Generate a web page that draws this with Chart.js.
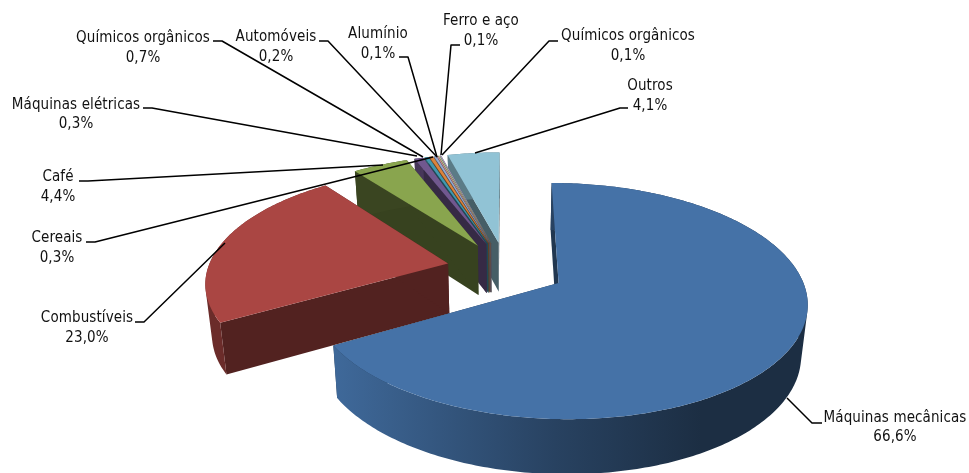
<!DOCTYPE html>
<html><head><meta charset="utf-8">
<style>html,body{margin:0;padding:0;background:#fff}canvas{display:block}</style>
<script src="https://cdn.jsdelivr.net/npm/chart.js@4"></script>
</head><body>
<canvas id="c" width="969" height="473"></canvas>
<script>
const categories = ["Máquinas mecânicas","Combustíveis","Café","Químicos orgânicos","Máquinas elétricas","Cereais","Automóveis","Alumínio","Ferro e aço","Químicos orgânicos","Outros"];
const shares = [66.6,23.0,4.4,0.7,0.3,0.3,0.2,0.1,0.1,0.1,4.1];
const sliceColors = ["#4572A7","#AA4643","#89A54E","#71588F","#4198AF","#DB843D","#93A9CF","#D19392","#B9CD96","#A99BBD","#91C3D5"];

// text centre x, y of both lines, and the leader polyline of each label (same order as categories)
const labelLayout = [
 {cx:895,y:[418,437],line:[[822,423],[812,423],[787,398]]},
 {cx:87,y:[318,338],line:[[135,322],[144,322],[225,243]]},
 {cx:58,y:[177,197],line:[[79,181],[88,181],[383,165]]},
 {cx:143,y:[38,58],line:[[213,41],[222,41],[423,157]]},
 {cx:76,y:[105,124],line:[[143,108],[152,108],[417,156]]},
 {cx:57,y:[238,258],line:[[86,242],[95,242],[433,157]]},
 {cx:276,y:[37,57],line:[[319,41],[328,41],[437,157]]},
 {cx:378,y:[34,54],line:[[399,57],[408,57],[437,157]]},
 {cx:481,y:[21,41],line:[[460,45],[451,45],[441,155]]},
 {cx:628,y:[36,56],line:[[558,41],[549,41],[442,155]]},
 {cx:650,y:[86,106],line:[[628,108],[620,108],[475,153]]}
];

const view = {sx:1.324, sy:0.612, persp:0.15, base:0.978, depth:50};
const blueWallStops = [[0,0.92],[0.47,0.58],[0.78,0.4],[1,0.4]];

function shade(hex,f){
  const n=parseInt(hex.slice(1),16);
  return `rgb(${Math.round((n>>16&255)*f)},${Math.round((n>>8&255)*f)},${Math.round((n&255)*f)})`;
}
function project(arc,dx,dy,bottom){
  const w=1-view.persp*dy/arc.outerRadius;
  let x=view.sx*dx/w, y=view.sy*dy/w;
  if(bottom){x*=view.base; y+=view.depth*(1+(1/w-1)*0.5);}
  return [arc.x+x,arc.y+y];
}
function poly(ctx,pts,fill){
  ctx.beginPath();
  pts.forEach((p,i)=>i?ctx.lineTo(p[0],p[1]):ctx.moveTo(p[0],p[1]));
  ctx.closePath();
  ctx.fillStyle=fill; ctx.fill();
}
// several polygons filled as one path, all wound the same way, so no seams or holes appear
function band(ctx,top,bot,fill){
  ctx.beginPath();
  for(let k=0;k<top.length-1;k++){
    let q=[top[k],top[k+1],bot[k+1],bot[k]], area=0;
    q.forEach((p,j)=>{const r=q[(j+1)%4]; area+=p[0]*r[1]-r[0]*p[1];});
    if(area<0) q.reverse();
    q.forEach((p,j)=>j?ctx.lineTo(p[0],p[1]):ctx.moveTo(p[0],p[1]));
    ctx.closePath();
  }
  ctx.fillStyle=fill; ctx.fill();
}
const pie3d = {
  id:'pie3d',
  beforeDatasetsDraw(chart){
    const ctx=chart.ctx, arcs=chart.getDatasetMeta(0).data;
    const order=[...arcs.keys()].reverse();
    ctx.save();
    for(const i of order){
      const arc=arcs[i], col=sliceColors[i], off=arc.options.offset;
      const mid=(arc.startAngle+arc.endAngle)/2;
      const ox=off*Math.cos(mid), oy=off*Math.sin(mid), R=arc.outerRadius;
      const n=Math.max(2,Math.ceil((arc.endAngle-arc.startAngle)/0.015));
      const rim=[];
      for(let k=0;k<=n;k++){
        const a=arc.startAngle+(arc.endAngle-arc.startAngle)*k/n;
        rim.push([ox+R*Math.cos(a),oy+R*Math.sin(a)]);
      }
      const top=rim.map(p=>project(arc,p[0],p[1],false));
      const bot=rim.map(p=>project(arc,p[0],p[1],true));
      const c0=project(arc,ox,oy,false), c1=project(arc,ox,oy,true);
      // radial faces
      const face=shade(col,i===2?0.4:0.48);
      poly(ctx,[c0,top[0],bot[0],c1],face);
      poly(ctx,[c0,top[n],bot[n],c1],face);
      // outer wall
      let wall=shade(col,i===2?0.42:0.63);
      if(i===0){
        const xs=top.concat(bot).filter(p=>p[1]>c0[1]+40).map(p=>p[0]);
        const g=ctx.createLinearGradient(Math.min(...xs),0,Math.max(...xs),0);
        blueWallStops.forEach(s=>g.addColorStop(s[0],shade(col,s[1])));
        wall=g;
      }
      band(ctx,top,bot,wall);
      // top face
      poly(ctx,[c0,...top],col);
    }
    ctx.restore();
    return false;
  },
  afterDraw(chart){
    const ctx=chart.ctx;
    ctx.save();
    ctx.strokeStyle='#000'; ctx.lineWidth=1.5; ctx.lineJoin='round';
    labelLayout.forEach(l=>{
      ctx.beginPath();
      l.line.forEach((p,i)=>i?ctx.lineTo(p[0],p[1]):ctx.moveTo(p[0],p[1]));
      ctx.stroke();
    });
    ctx.fillStyle='#111';
    ctx.font="15px 'DejaVu Sans'";
    ctx.fontStretch='condensed';
    ctx.letterSpacing='0.1px';
    ctx.textAlign='center'; ctx.textBaseline='middle';
    labelLayout.forEach((l,i)=>{
      ctx.fillText(categories[i],l.cx,l.y[0]);
      ctx.fillText(shares[i].toFixed(1).replace('.',',')+'%',l.cx,l.y[1]);
    });
    ctx.restore();
  }
};
new Chart(document.getElementById('c'),{
  type:'pie',
  data:{labels:categories,datasets:[{data:shares,backgroundColor:sliceColors,offset:45,borderWidth:0}]},
  options:{responsive:false,animation:false,
    layout:{padding:{left:43,top:65}},
    plugins:{legend:{display:false},tooltip:{enabled:false}}},
  plugins:[pie3d]
});
</script>
</body></html>
